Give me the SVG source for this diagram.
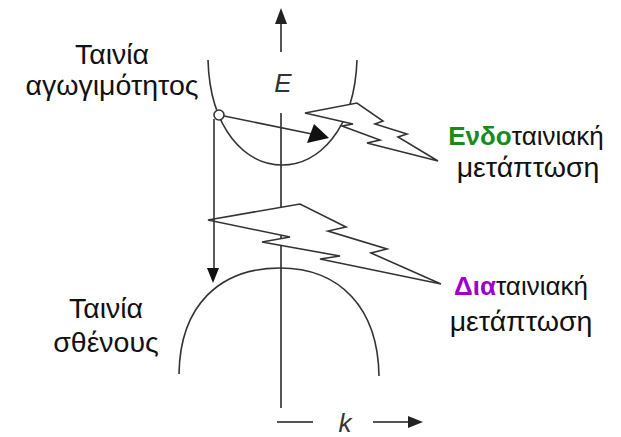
<svg xmlns="http://www.w3.org/2000/svg" width="621" height="437" viewBox="0 0 621 437">
<style>
.curve{fill:none;stroke:#333;stroke-width:1.6}
.axis{fill:none;stroke:#555;stroke-width:2}
.bolt{fill:#fff;stroke:#333;stroke-width:1.6;stroke-linejoin:miter}
.lbl{font-family:"Liberation Sans",Arial,sans-serif;font-size:26px;fill:#111;text-anchor:middle}
.lbl2{font-family:"Liberation Sans",Arial,sans-serif;font-size:28.5px;fill:#111;text-anchor:middle}
.lbl-l{font-family:"Liberation Sans",Arial,sans-serif;font-size:28.5px;fill:#111;text-anchor:middle}
.ax{font-family:"Liberation Sans",Arial,sans-serif;font-size:26px;font-style:italic;fill:#333;text-anchor:middle}
</style>
<rect width="621" height="437" fill="#fff"/>
<g id="axes">
<g id="E-axis">
<line class="axis" x1="281" y1="52" x2="281" y2="22"/>
<path d="M281,8 L287,24 L275,24 Z" fill="#222"/>
<line class="axis" x1="281" y1="113" x2="281" y2="408"/>
<text class="ax" x="283" y="92">E</text>
</g>
<g id="k-axis">
<line class="axis" x1="277" y1="422" x2="313" y2="422"/>
<line class="axis" x1="373" y1="422" x2="410" y2="422"/>
<path d="M423,422 L408,416 L408,428 Z" fill="#222"/>
<text class="ax" x="345" y="432">k</text>
</g>
</g>
<g id="conduction-band">
<path class="curve" d="M208,60 C212,200 352,200 357,60"/>
</g>
<g id="valence-band">
<path class="curve" d="M179,374 C180,305 220,268 280,268 C340,268 378,308 379,376"/>
</g>
<g id="intra-band-transition">
<polygon class="bolt" points="305,113 357,103 383,121 375,124 407,134 398,137 438,161 367,143 380,140 342,126 353,124"/>
</g>
<g id="inter-band-transition">
<polygon class="bolt" points="208,220 300,204 346,227 328,231 387,249 371,253 441,284 320,259 340,256 262,242 290,237"/>
</g>
<g id="connectors">
<line class="curve" x1="214" y1="119" x2="214" y2="272"/>
<path d="M213,283 L207,268 L219,268 Z" fill="#111"/>
<line class="curve" x1="224" y1="116" x2="312" y2="134"/>
<path d="M329,138 L314,124 L307,143 Z" fill="#111"/>
</g>
<g id="electron">
<circle cx="219" cy="115" r="5" fill="#fff" stroke="#333" stroke-width="1.6"/>
</g>
<g id="label-conduction">
<text class="lbl-l" x="112" y="64">Ταινία</text>
<text class="lbl-l" x="112" y="95">αγωγιμότητος</text>
</g>
<g id="label-valence">
<text class="lbl-l" x="106" y="318">Ταινία</text>
<text class="lbl-l" x="106" y="352">σθένους</text>
</g>
<g id="label-intra">
<text class="lbl" x="526" y="145"><tspan fill="#1a8a1a" font-weight="bold">Ενδο</tspan>ταινιακή</text>
<text class="lbl2" x="528" y="177">μετάπτωση</text>
</g>
<g id="label-inter">
<text class="lbl" x="521" y="295"><tspan fill="#9b00cc" font-weight="bold">Δια</tspan>ταινιακή</text>
<text class="lbl2" x="521" y="331">μετάπτωση</text>
</g>
</svg>
